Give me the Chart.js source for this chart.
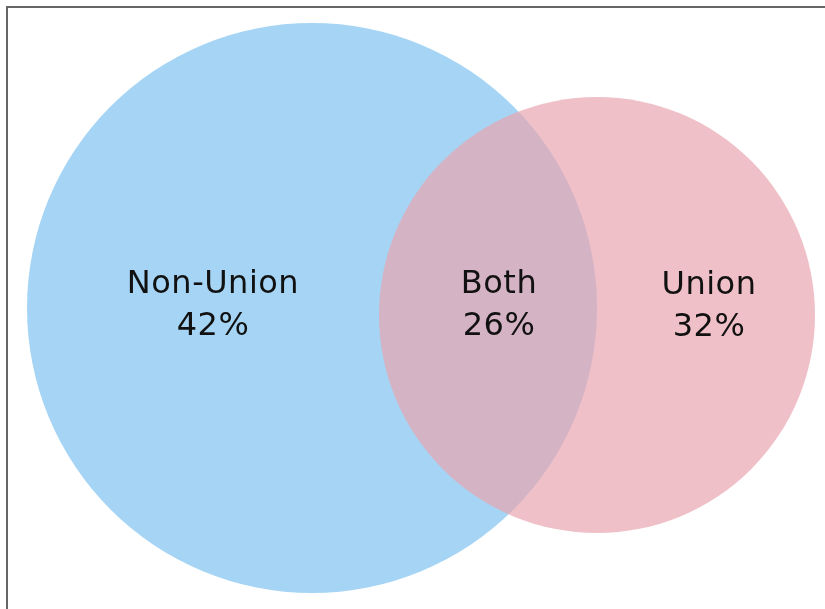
<!DOCTYPE html>
<html>
<head>
<meta charset="utf-8">
<title>Union membership overlap</title>
<script src="https://cdn.jsdelivr.net/npm/chart.js@4.4.1/dist/chart.umd.min.js"></script>
<style>
  html, body { margin: 0; padding: 0; background: #fff; overflow: hidden; }
  #wrap { position: relative; width: 825px; height: 609px; }
  #frame {
    position: absolute; left: 6px; top: 6px; width: 900px; height: 700px;
    border: 2px solid #666; box-sizing: border-box;
  }
  #venn { position: absolute; left: 0; top: 0; }
</style>
</head>
<body>
<div id="wrap">
  <div id="frame"></div>
  <canvas id="venn" width="825" height="609"></canvas>
</div>
<script>
// ====== DATA ======
const regionLabels = ["Non-Union", "Both", "Union"];
const regionShares = [42, 26, 32];
const setNames = ["Non-Union", "Union"];

// ====== LAYOUT (chart units, 1 unit = 1 px) ======
const circleCx = [312, 597];
const circleCy = [308, 315];
const circleR = [285, 218];
const labelCx = [213, 499, 709];
const labelCy = [306, 306, 307];

const fills = ["#a5d4f5", "rgba(232, 165, 175, 0.7)"];

// ====== LABEL PLUGIN ======
const regionText = {
  id: "regionText",
  afterDatasetsDraw(chart) {
    const { ctx, scales } = chart;
    ctx.save();
    ctx.fillStyle = "#111";
    ctx.font = "32px 'DejaVu Sans'";
    ctx.letterSpacing = "0.5px";
    ctx.textAlign = "center";
    ctx.textBaseline = "middle";
    regionLabels.forEach((lbl, i) => {
      const x = scales.x.getPixelForValue(labelCx[i]);
      const y = scales.y.getPixelForValue(labelCy[i]);
      ctx.fillText(lbl, x, y - 21);
      ctx.fillText(regionShares[i] + "%", x, y + 21);
    });
    ctx.restore();
  },
};

// ====== CHART ======
new Chart(document.getElementById("venn"), {
  type: "bubble",
  data: {
    datasets: setNames.map((name, i) => ({
      label: name,
      data: [{ x: circleCx[i], y: circleCy[i], r: circleR[i] }],
      backgroundColor: fills[i],
      borderWidth: 0,
      hoverBorderWidth: 0,
      hoverRadius: 0,
      order: setNames.length - i,
      clip: false,
    })),
  },
  options: {
    responsive: false,
    animation: false,
    events: [],
    layout: { padding: 0, autoPadding: false },
    plugins: { legend: { display: false }, tooltip: { enabled: false } },
    scales: {
      x: { type: "linear", min: 0, max: 825, display: false },
      y: { type: "linear", min: 0, max: 609, reverse: true, display: false },
    },
  },
  plugins: [regionText],
});
</script>
</body>
</html>
